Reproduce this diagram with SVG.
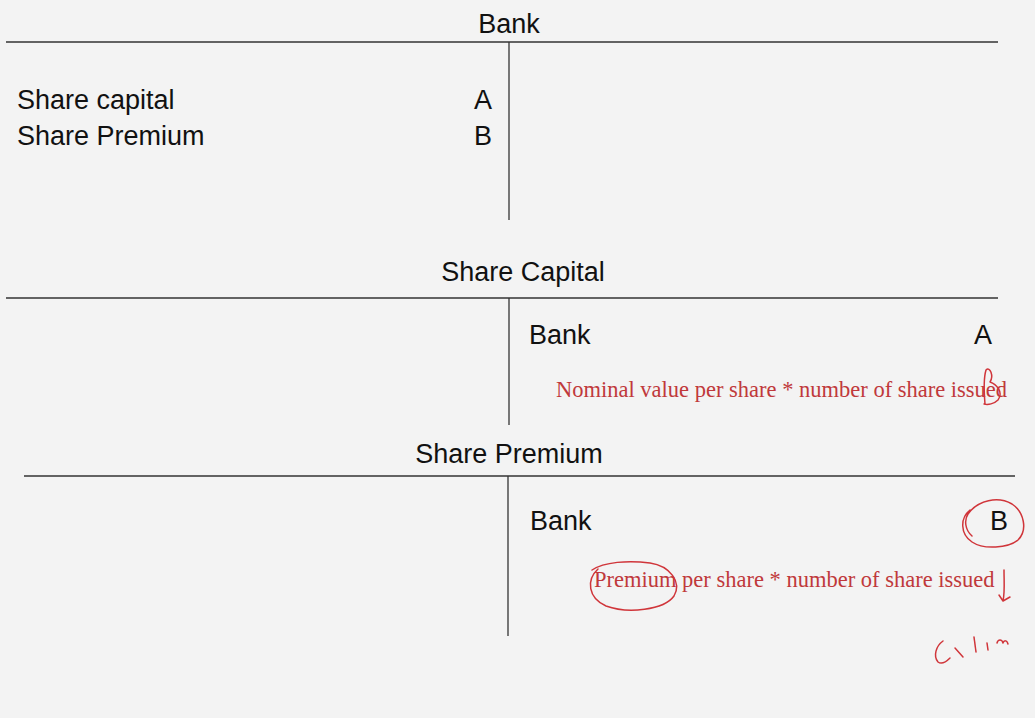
<svg xmlns="http://www.w3.org/2000/svg" width="1035" height="718" viewBox="0 0 1035 718">
<style>
.t{font-family:"Liberation Sans",Arial,sans-serif;font-size:27px;fill:#111}
.r{font-family:"Liberation Serif","Times New Roman",serif;font-size:22.5px;fill:#c0393b}
.ln{stroke:#333;stroke-width:1.3;fill:none}
.ink{stroke:#d0353a;stroke-width:1.5;fill:none;stroke-linecap:round;stroke-linejoin:round}
</style>
<rect width="1035" height="718" fill="#f3f3f3"/>
<g id="connectors">
<line class="ln" x1="6" y1="42" x2="998" y2="42"/>
<line class="ln" x1="509" y1="42" x2="509" y2="220"/>
<line class="ln" x1="6" y1="298" x2="998" y2="298"/>
<line class="ln" x1="509" y1="298" x2="509" y2="425"/>
<line class="ln" x1="24" y1="476" x2="1015" y2="476"/>
<line class="ln" x1="508" y1="476" x2="508" y2="636"/>
</g>
<g id="bank">
<text class="t" x="509" y="33" text-anchor="middle">Bank</text>
<text class="t" x="17" y="109">Share capital</text>
<text class="t" x="17" y="145">Share Premium</text>
<text class="t" x="474" y="109">A</text>
<text class="t" x="474" y="145">B</text>
</g>
<g id="share-capital">
<text class="t" x="523" y="281" text-anchor="middle">Share Capital</text>
<text class="t" x="529" y="344">Bank</text>
<text class="t" x="974" y="344">A</text>
<text class="r" x="556" y="397">Nominal value per share * number of share issued</text>
<path class="ink" d="M985,404 C984,392 983,380 986,370 C990,366 994,376 990,382 C996,384 1004,392 998,400 C994,404 988,405 984,404"/>
</g>
<g id="share-premium">
<text class="t" x="509" y="463" text-anchor="middle">Share Premium</text>
<text class="t" x="530" y="530">Bank</text>
<text class="t" x="990" y="530">B</text>
<path class="ink" d="M970,510 C960,518 960,534 972,542 C984,550 1008,548 1018,540 C1028,530 1024,512 1012,504 C998,496 978,500 968,514 C964,520 965,530 972,536"/>
<text class="r" x="594" y="587">Premium per share * number of share issued</text>
<path class="ink" d="M598,569 C586,580 588,598 606,606 C628,614 664,610 674,596 C682,582 670,566 650,563 C628,560 604,562 592,570"/>
<path class="ink" d="M1004,570 C1004,582 1005,592 1003,601 M999,595 L1003,601 L1010,597"/>
</g>
<g id="scribble">
<path class="ink" d="M943,641 C936,646 933,656 938,662 C942,665 946,662 950,658"/>
<path class="ink" d="M955,648 L963,657"/>
<path class="ink" d="M974,637 L976,652"/>
<path class="ink" d="M987,643 L988,650"/>
<path class="ink" d="M997,643 C998,639 1002,639 1003,643 C1004,640 1007,640 1008,644"/>
</g>
</svg>
